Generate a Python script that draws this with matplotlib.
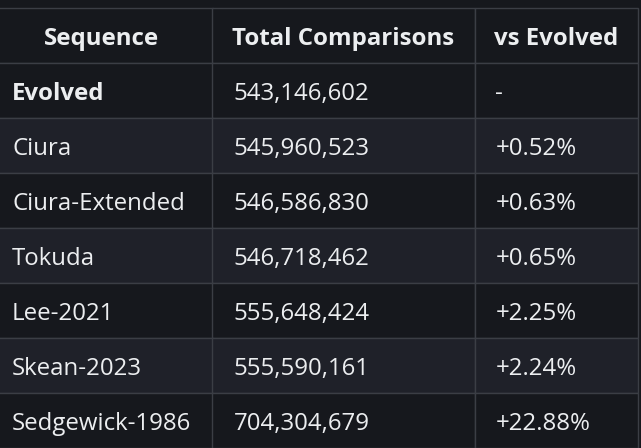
import matplotlib.pyplot as plt

plt.rcParams['font.family'] = ['Open Sans', 'DejaVu Sans']

# Table data
columns = ["Sequence", "Total Comparisons", "vs Evolved"]
sequences = ["Evolved", "Ciura", "Ciura-Extended", "Tokuda",
             "Lee-2021", "Skean-2023", "Sedgewick-1986"]
comparisons = [543146602, 545960523, 546586830, 546718462,
               555648424, 555590161, 704304679]
vs_evolved = ["-", "+0.52%", "+0.63%", "+0.65%",
              "+2.25%", "+2.24%", "+22.88%"]

bg = "#16181d"
row_alt = "#1f2129"
line = "#3b3e45"
text_col = "#eceef0"

W, H = 641, 448
fig = plt.figure(figsize=(W / 100, H / 100), dpi=100, facecolor=bg)
ax = fig.add_axes([0, 0, 1, 1])
ax.set_facecolor(bg)
ax.axis("off")

cell_text = [[s, f"{c:,}", v] for s, c, v in zip(sequences, comparisons, vs_evolved)]

# column edges in pixels (first column starts off-canvas)
x0, x1, x2, x3 = -9, 212.5, 474.5, 637.5
top, bottom = 8, 448
widths = [x1 - x0, x2 - x1, x3 - x2]
total_w = x3 - x0

tbl = ax.table(cellText=cell_text, colLabels=columns,
               cellLoc="left", colLoc="center",
               colWidths=[w / total_w for w in widths],
               bbox=[x0 / W, (H - bottom) / H, total_w / W, (bottom - top) / H])
tbl.auto_set_font_size(False)

for (r, c), cell in tbl.get_celld().items():
    cell.set_edgecolor(line)
    cell.set_linewidth(1.0)
    cell.PAD = 21 / widths[c]
    t = cell.get_text()
    t.set_color(text_col)
    t.set_fontsize(17.3)
    t.set_verticalalignment("center_baseline")
    if r == 0:
        cell.set_facecolor(bg)
        t.set_fontweight("bold")
    else:
        cell.set_facecolor(row_alt if r % 2 == 0 else bg)
        if r == 1 and c == 0:
            t.set_fontweight("bold")
    if c == 0:
        cell.visible_edges = "TRB"

fig.savefig("out.png", dpi=100, facecolor=bg)
